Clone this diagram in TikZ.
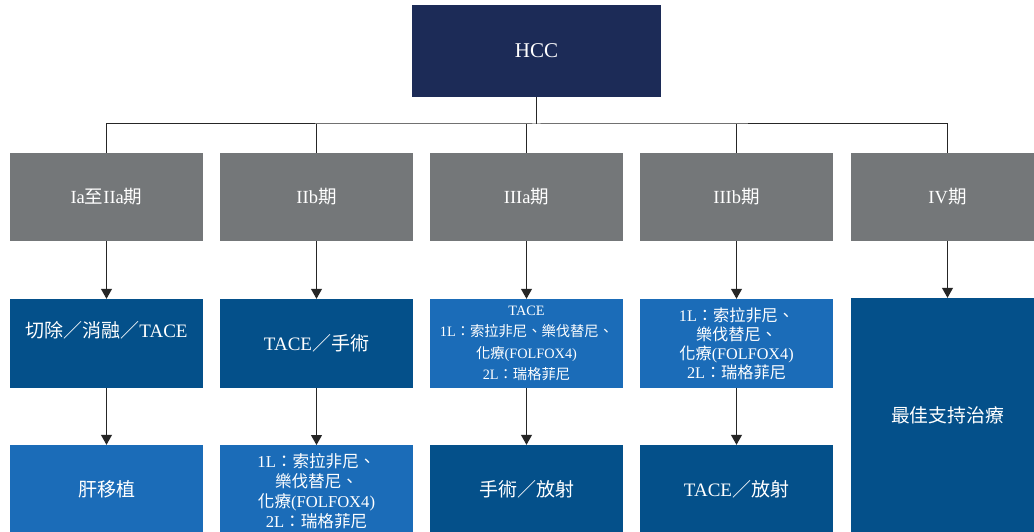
\documentclass[tikz,border=0pt]{standalone}
\usepackage{fontspec}
\setmainfont{Liberation Serif}
\newfontfamily\cjk{Noto Sans CJK TC}
\newcommand\zh[1]{{\cjk #1}}
\usetikzlibrary{arrows.meta,calc}
\definecolor{navy}{HTML}{1C2B57}
\definecolor{stagegray}{HTML}{747779}
\definecolor{darkblue}{HTML}{04508A}
\definecolor{lightblue}{HTML}{1B6CB8}
\tikzset{
  box/.style={inner sep=0pt, text=white, align=center, minimum width=193pt},
  stagebox/.style={box, fill=stagegray, minimum height=88pt, font=\fontsize{18.5}{22}\selectfont},
  darkbox/.style={box, fill=darkblue, minimum height=89pt, font=\fontsize{19}{22}\selectfont},
  lightbox/.style={box, fill=lightblue, minimum height=89pt, font=\fontsize{19}{22}\selectfont},
  conn/.style={draw=black!85, line width=1pt},
  arr/.style={conn, -{Triangle[width=11pt,length=10pt]}}
}
\begin{document}
\begin{tikzpicture}[x=1pt,y=-1pt]
\clip (0,0) rectangle (1034,532);
\fill[white] (0,0) rectangle (1034,532);
% root
\node[box, fill=navy, minimum width=249pt, minimum height=92pt, font=\fontsize{21}{24}\selectfont] (hcc) at (536.5,51) {HCC};
% stages
\node[stagebox] (g1) at (106.5,197) {Ia\zh{至}IIa\zh{期}};
\node[stagebox] (g2) at (316.5,197) {IIb\zh{期}};
\node[stagebox] (g3) at (526.5,197) {IIIa\zh{期}};
\node[stagebox] (g4) at (736.5,197) {IIIb\zh{期}};
\node[stagebox] (g5) at (947.5,197) {IV\zh{期}};
% second row
\node[darkbox] (a1) at (106.5,343.5) {};
\node[text=white, font=\fontsize{19}{22}\selectfont, inner sep=0pt] (a1t) at (106.5,330) {\zh{切除／消融／}TACE};
\node[darkbox] (a2) at (316.5,343.5) {TACE\zh{／手術}};
\node[lightbox, font=\fontsize{14.3}{21.5}\selectfont] (a3) at (526.5,343.5) {TACE\\1L\zh{：索拉非尼、樂伐替尼、}\\\zh{化療}(FOLFOX4)\\2L\zh{：瑞格菲尼}};
\node[lightbox, font=\fontsize{16.2}{19}\selectfont] (a4) at (736.5,343.5) {1L\zh{：索拉非尼、}\\\zh{樂伐替尼、}\\\zh{化療}(FOLFOX4)\\2L\zh{：瑞格菲尼}};
\node[box, fill=darkblue, minimum height=234pt, font=\fontsize{18.8}{22}\selectfont] (a5) at (947.5,415) {\zh{最佳支持治療}};
% third row
\node[lightbox] (b1) at (106.5,489.5) {\zh{肝移植}};
\node[lightbox, font=\fontsize{16.6}{20}\selectfont, anchor=north] (b2) at (316.5,445) {\rule{0pt}{6pt}\\[-4pt]1L\zh{：索拉非尼、}\\\zh{樂伐替尼、}\\\zh{化療}(FOLFOX4)\\2L\zh{：瑞格菲尼}\\[20pt]};
\node[darkbox] (b3) at (526.5,489.5) {\zh{手術／放射}};
\node[darkbox] (b4) at (736.5,489.5) {TACE\zh{／放射}};
% connectors
\coordinate (bus) at (536.5,124);
\draw[conn] (hcc.south) -- (bus);
\draw[conn] (g1.north) |- (bus) -| (g5.north);
\draw[conn] (g2.north) -- (g2.north |- bus);
\draw[conn] (g3.north) -- (g3.north |- bus);
\draw[conn] (g4.north) -- (g4.north |- bus);
\foreach \i in {1,...,5} {\draw[arr] (g\i.south) -- (a\i.north);}
\foreach \i in {1,...,4} {\draw[arr] (a\i.south) -- (b\i.north);}
\end{tikzpicture}
\end{document}
